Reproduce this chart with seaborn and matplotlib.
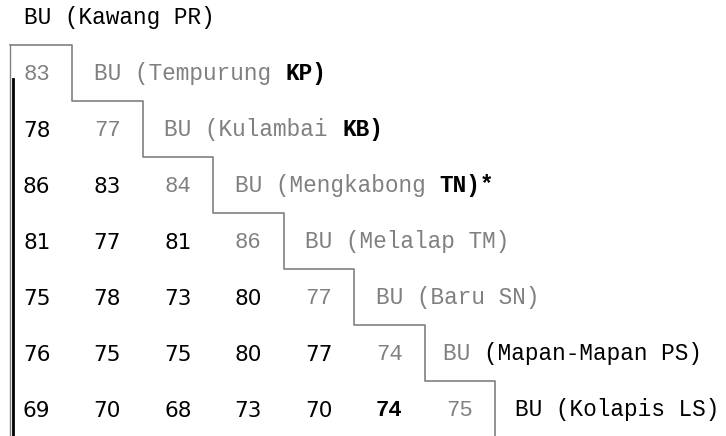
import numpy as np
import pandas as pd
import seaborn as sns
import matplotlib.pyplot as plt
from matplotlib.colors import ListedColormap

# Matrice lexicostatistique (pourcentages) - triangle inférieur
title = "BU (Kawang PR)"
values = [
    [83],
    [78, 77],
    [86, 83, 84],
    [81, 77, 81, 86],
    [75, 78, 73, 80, 77],
    [76, 75, 75, 80, 77, 74],
    [69, 70, 68, 73, 70, 74, 75],
]
# libellés de ligne: (texte, style) ; g = gris, k = noir, b = noir gras
row_labels = [
    [("BU (Tempurung ", "g"), ("KP)", "b")],
    [("BU (Kulambai ", "g"), ("KB)", "b")],
    [("BU (Mengkabong ", "g"), ("TN)*", "b")],
    [("BU (Melalap TM)", "g")],
    [("BU (Baru SN)", "g")],
    [("BU ", "g"), ("(Mapan-Mapan PS)", "k")],
    [("BU (Kolapis LS)", "k")],
]
label_gap = [0.31, 0.31, 0.31, 0.31, 0.31, 0.26, 0.29]

n = len(values)
mat = np.full((n, n), np.nan)
for i, row in enumerate(values):
    mat[i, :len(row)] = row
df = pd.DataFrame(mat)

GRAY = "#808080"
MONO = "Liberation Mono"
LBL_SIZE = 16.4
styles = {
    "g": dict(color=GRAY, fontweight="normal"),
    "k": dict(color="black", fontweight="normal"),
    "b": dict(color="black", fontweight="bold"),
}

W, H = 726, 436
fig = plt.figure(figsize=(W / 100, H / 100), dpi=100)
cw, rh = 70.5, 56
ax = fig.add_axes([1.5 / W, (H - 45 - n * rh) / H, n * cw / W, n * rh / H])

sns.heatmap(df, mask=np.isnan(mat), cmap=ListedColormap(["white"]),
            cbar=False, annot=False, xticklabels=False, yticklabels=False,
            linewidths=0, ax=ax)
ax.axis("off")

# nombres
for i, row in enumerate(values):
    for j, v in enumerate(row):
        if j == i:
            ax.text(j + 0.5, i + 0.5 + 0.12, str(v), ha="center", va="baseline",
                    family=MONO, fontsize=16, color=GRAY, clip_on=False)
        elif i == n - 1 and j == n - 2:
            ax.text(j + 0.5, i + 0.5 + 0.12, str(v), ha="center", va="baseline",
                    family=MONO, fontsize=16, color="black", fontweight="bold",
                    clip_on=False)
        else:
            ax.text(j + 0.5, i + 0.5 + 0.14, str(v), ha="center", va="baseline",
                    family="DejaVu Sans", fontsize=15.5, color="black", clip_on=False)

# libellés en escalier (police à chasse fixe: 0.6 em par caractère)
char_w = 0.6 * LBL_SIZE * 100 / 72 / cw
for i, parts in enumerate(row_labels):
    x = i + 1 + label_gap[i]
    for txt, st in parts:
        ax.text(x, i + 0.5 + 0.12, txt, ha="left", va="baseline",
                family=MONO, fontsize=LBL_SIZE, clip_on=False, **styles[st])
        x += len(txt) * char_w

ax.text(22 / cw, -0.5 + 0.12, title, ha="left", va="baseline",
        family=MONO, fontsize=LBL_SIZE, color="black", clip_on=False)

# ligne en escalier
xs, ys = [0.12], [0]
for k in range(n):
    xs += [k + 1, k + 1]
    ys += [k, k + 1]
    if k < n - 1:
        xs.append(k + 2)
        ys.append(k + 1)
ax.plot(xs, ys, color=GRAY, lw=1.2, clip_on=False)
ax.plot([0.12, 0.12], [0, n], color=GRAY, lw=1.0, clip_on=False)
ax.plot([0.16, 0.16], [0.6, n], color="black", lw=2.0, clip_on=False)

fig.savefig("out.png", dpi=100, facecolor="white")
